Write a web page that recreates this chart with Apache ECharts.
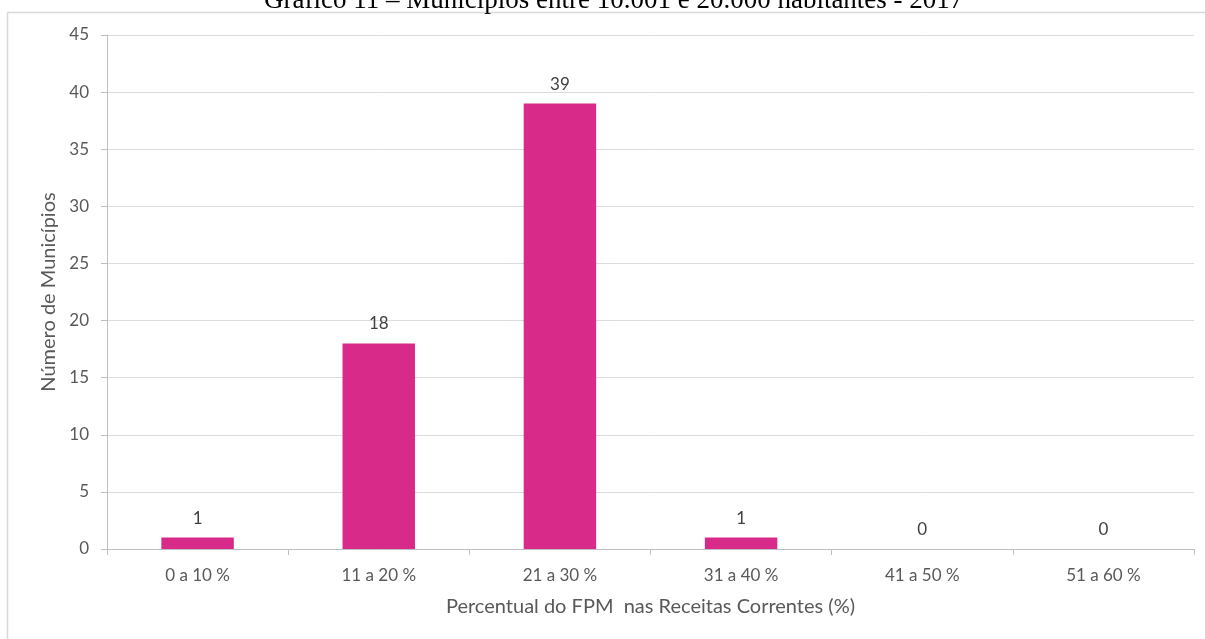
<!DOCTYPE html>
<html>
<head>
<meta charset="utf-8">
<title>Gráfico 11</title>
<script src="https://cdn.jsdelivr.net/npm/echarts@6/dist/echarts.min.js"></script>
<style>
  html, body { margin: 0; padding: 0; background: #ffffff; overflow: hidden; }
  #chart { width: 1205px; height: 639px; }
</style>
</head>
<body>
<div id="chart"></div>
<script>
// Faixas de participação do FPM nas receitas correntes
const categories = ['0 a 10 %', '11 a 20 %', '21 a 30 %', '31 a 40 %', '41 a 50 %', '51 a 60 %'];
// Quantidade de municípios em cada faixa
const municipios = [1, 18, 39, 1, 0, 0];
// Marcas do eixo vertical
const yMin = 0;
const yMax = 45;
const yStep = 5;

const titleText = 'Gráfico 11 – Municípios entre 10.001 e 20.000 habitantes - 2017';
const xAxisName = 'Percentual do FPM  nas Receitas Correntes (%)';
const yAxisName = 'Número de Municípios';

const labelFont = 'Lato, "Open Sans", sans-serif';
const textColor = '#595959';

const chart = echarts.init(document.getElementById('chart'), null, { renderer: 'canvas' });

chart.setOption({
  animation: false,
  backgroundColor: '#ffffff',
  graphic: [
    {
      type: 'rect',
      z: -1,
      shape: { x: 7.5, y: 12.5, width: 1400, height: 800 },
      style: { fill: 'none', stroke: '#d9d9d9', lineWidth: 1.5 }
    },
    {
      type: 'text',
      left: 264,
      top: -13,
      style: {
        text: titleText,
        font: '27px "Liberation Serif", "Times New Roman", serif',
        fill: '#000000'
      }
    }
  ],
  grid: { left: 107, right: 11, top: 35, bottom: 90, containLabel: false },
  xAxis: {
    type: 'category',
    data: categories,
    boundaryGap: true,
    name: xAxisName,
    nameLocation: 'middle',
    nameGap: 48,
    nameTextStyle: { fontFamily: labelFont, fontSize: 20, color: textColor },
    axisLine: { show: true, lineStyle: { color: '#bfbfbf', width: 1 } },
    axisTick: { show: true, alignWithLabel: false, length: 6, lineStyle: { color: '#bfbfbf' } },
    axisLabel: { fontFamily: labelFont, fontSize: 17, color: textColor, margin: 18 },
    splitLine: { show: false }
  },
  yAxis: {
    type: 'value',
    min: yMin,
    max: yMax,
    interval: yStep,
    name: yAxisName,
    nameLocation: 'middle',
    nameGap: 44,
    nameRotate: 90,
    nameTextStyle: { fontFamily: labelFont, fontSize: 20, color: textColor },
    axisLine: { show: true, lineStyle: { color: '#bfbfbf', width: 1 } },
    axisTick: { show: true, length: 6, lineStyle: { color: '#bfbfbf' } },
    axisLabel: { fontFamily: labelFont, fontSize: 17, color: textColor, margin: 18 },
    splitLine: { show: true, lineStyle: { color: '#dcdcdc', width: 1 } }
  },
  series: [
    {
      type: 'bar',
      data: municipios,
      barWidth: '40%',
      itemStyle: { color: '#d82a89' },
      label: {
        show: true,
        position: 'top',
        distance: 11,
        fontFamily: labelFont,
        fontSize: 17,
        color: '#404040'
      }
    }
  ]
});
</script>
</body>
</html>
